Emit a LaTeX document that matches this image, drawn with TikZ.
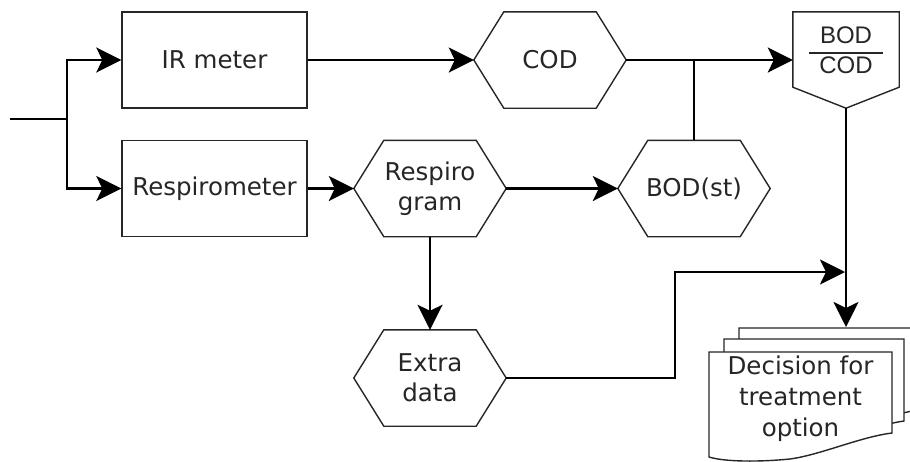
\documentclass[tikz,border=0pt]{standalone}
\usepackage{fontspec}
\setmainfont{DejaVu Sans}
\newfontfamily\ratiofont{Liberation Sans}
\usetikzlibrary{arrows.meta}

% hexagonal outline around a named (undrawn) node
\newcommand\hexoutline[1]{%
  \draw[shapeline] (#1.west) -- ([xshift=30pt]#1.north west) -- ([xshift=-30pt]#1.north east)
    -- (#1.east) -- ([xshift=-30pt]#1.south east) -- ([xshift=30pt]#1.south west) -- cycle;}

% one page of the document stack: left x, top y, right x, y of the lower right corner
\newcommand\docpage[4]{%
  \filldraw[shapeline, fill=white] (#1,#2) -- (#3,#2) -- (#3,#4)
    .. controls ({#1+151},{#4+4}) and ({#1+111},{#4+22}) .. ({#1+81},{#4+26})
    .. controls ({#1+51},{#4+29}) and ({#1+16},{#4+29}) .. ({#1},{#4+24}) -- cycle;}

\begin{document}
\begin{tikzpicture}[x=1pt, y=-1pt,
  shapeline/.style={line width=1.4pt, line join=miter, draw=black!85},
  conn/.style={line width=2.8pt},
  arr/.style={conn, -{Stealth[length=25pt, width=25pt, inset=6pt]}},
  textfont/.style={font=\fontsize{24.5}{30}\selectfont, text=black!85},
  boxnode/.style={draw, shapeline, textfont, minimum width=185pt, minimum height=96pt, inner sep=0pt},
  hexnode/.style={textfont, align=center, minimum width=152pt, minimum height=96pt, inner sep=0pt},
]
\useasboundingbox (0,0) rectangle (910,461);

% process boxes
\node[boxnode] (irm) at (214.5,60) {IR meter};
\node[boxnode] (resp) at (214.5,188.5) {Respirometer};

% data hexagons
\node[hexnode] (cod) at (550,60) {COD};
\hexoutline{cod}
\node[hexnode] (rg) at (430,188.5) {Respiro\\gram};
\hexoutline{rg}
\node[hexnode] (bod) at (694,188.5) {BOD(st)};
\hexoutline{bod}
\node[hexnode] (extra) at (430,378) {Extra\\data};
\hexoutline{extra}

% off-page ratio connector
\node[minimum width=106pt, minimum height=96pt, inner sep=0pt] (ratio) at (846,60) {};
\draw[shapeline] (ratio.north west) -- (ratio.north east) -- ([yshift=21pt]ratio.south east)
  -- (ratio.south) -- ([yshift=21pt]ratio.south west) -- cycle;
\node[font=\ratiofont\fontsize{24}{28}\selectfont, text=black!85, inner sep=0pt] (ratiotext) at (846,53)
  {\setlength{\arrayrulewidth}{1.5pt}\begin{tabular}{@{\hspace{10pt}}c@{\hspace{10pt}}}BOD\\\hline COD\end{tabular}};

% stack of decision documents
\docpage{739}{328}{918}{410}
\docpage{724}{339}{904}{421}
\docpage{709}{352}{892}{433}
\node[align=center, font=\fontsize{24.5}{31}\selectfont, text=black!85, inner sep=0pt] (dec) at (800.5,399) {Decision for\\treatment\\option};

% connectors
\coordinate (in) at (10,119);
\coordinate (split) at (67,119);
\coordinate (bend) at (675,272);
\coordinate (merge) at (845,272);
\coordinate (stacktop) at (846,327);

\draw[conn] (in) -- (split);
\draw[arr] (split) |- (irm.west);
\draw[arr] (split) |- (resp.west);
\draw[arr] (irm.east) -- (cod.west);
\draw[arr] (cod.east) -- (ratio.west);
\draw[conn] (bod.north) -- (bod.north |- cod.east);
\draw[arr] (resp.east) -- (rg.west);
\draw[arr] (rg.east) -- (bod.west);
\draw[arr] (rg.south) -- (extra.north);
\draw[arr] (extra.east) -| (bend) -- (merge);
\draw[arr] (ratio.south) -- (stacktop);
\end{tikzpicture}
\end{document}
